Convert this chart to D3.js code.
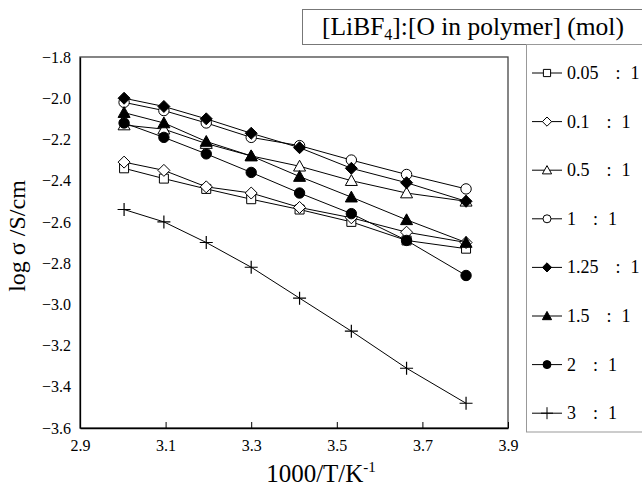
<!DOCTYPE html>
<html>
<head>
<meta charset="utf-8">
<script src="https://cdn.jsdelivr.net/npm/d3@7"></script>
<style>
  body { margin: 0; background: #fff; }
  svg text { font-family: "Liberation Serif", "Times New Roman", serif; fill: #000; }
</style>
</head>
<body>
<div id="chart"></div>
<script>
// 1000/T values (T = 333 ... 263 K)
var invT = [3.003, 3.096, 3.195, 3.300, 3.413, 3.534, 3.663, 3.802];

// legend labels, [LiBF4]:[O] ratio
var ratios = ["0.05", "0.1", "0.5", "1", "1.25", "1.5", "2", "3"];

// log sigma for each ratio
var r005 = [-2.34, -2.39, -2.44, -2.49, -2.54, -2.60, -2.69, -2.73];
var r01  = [-2.31, -2.35, -2.43, -2.46, -2.53, -2.58, -2.65, -2.70];
var r05  = [-2.13, -2.15, -2.22, -2.28, -2.33, -2.40, -2.46, -2.50];
var r1   = [-2.02, -2.06, -2.12, -2.19, -2.23, -2.30, -2.37, -2.44];
var r125 = [-2.00, -2.04, -2.10, -2.17, -2.24, -2.34, -2.41, -2.50];
var r15  = [-2.07, -2.12, -2.21, -2.28, -2.38, -2.48, -2.59, -2.70];
var r2   = [-2.12, -2.19, -2.27, -2.36, -2.46, -2.56, -2.69, -2.86];
var r3   = [-2.54, -2.60, -2.70, -2.82, -2.97, -3.13, -3.31, -3.48];

var allSeries = [r005, r01, r05, r1, r125, r15, r2, r3];
var markerKind = ["square", "diamond", "triangle", "circle", "diamond", "triangle", "circle", "plus"];
var markerFill = ["#fff", "#fff", "#fff", "#fff", "#000", "#000", "#000", "none"];

var xTicks = [2.9, 3.1, 3.3, 3.5, 3.7, 3.9];
var yTicks = [-1.8, -2.0, -2.2, -2.4, -2.6, -2.8, -3.0, -3.2, -3.4, -3.6];

var serif = "'Liberation Serif', 'Times New Roman', serif";
var width = 642, height = 486;
var margin = {top: 57, right: 134, bottom: 58, left: 80};
var innerWidth = width - margin.left - margin.right,
    innerHeight = height - margin.top - margin.bottom;

var svg = d3.select("#chart").append("svg")
    .attr("width", width)
    .attr("height", height);

svg.append("rect").attr("width", width).attr("height", height).attr("fill", "#fff");

var xScale = d3.scaleLinear().domain([2.9, 3.9]).range([0, innerWidth]);
var yScale = d3.scaleLinear().domain([-3.6, -1.8]).range([innerHeight, 0]);

// marker shapes, h = half size
function markerPath(kind, h) {
  if (kind == "square") return "M" + (-h) + "," + (-h) + "H" + h + "V" + h + "H" + (-h) + "Z";
  if (kind == "diamond") return "M0," + (-h) + "L" + h + ",0L0," + h + "L" + (-h) + ",0Z";
  if (kind == "triangle") return "M0," + (-h) + "L" + h + "," + (h * 0.8) + "L" + (-h) + "," + (h * 0.8) + "Z";
  if (kind == "circle") return "M" + h + ",0A" + h + "," + h + " 0 1,1 " + (-h) + ",0A" + h + "," + h + " 0 1,1 " + h + ",0Z";
  return "M" + (-h) + ",0H" + h + "M0," + (-h) + "V" + h; // plus
}
var plotSize = {square: 4.5, diamond: 6, triangle: 6, circle: 5.2, plus: 6.5};
var legSize = {square: 3.6, diamond: 4.6, triangle: 4.6, circle: 4, plus: 6};

var g = svg.append("g")
    .attr("transform", "translate(" + margin.left + "," + margin.top + ")");

// frame (top/right)
g.append("rect")
    .attr("width", innerWidth).attr("height", innerHeight)
    .attr("fill", "none").attr("stroke", "#444").attr("stroke-width", 1.3);

// x axis, ticks point inward
var xAxis = g.append("g")
    .attr("transform", "translate(0," + innerHeight + ")")
    .call(d3.axisBottom(xScale).tickValues(xTicks).tickSizeInner(-6).tickSizeOuter(0)
      .tickPadding(12).tickFormat(d3.format(".1f")));
xAxis.attr("font-family", serif).attr("font-size", 16);
xAxis.selectAll("text").style("font-family", serif).attr("font-size", 16);
xAxis.select(".domain").attr("stroke", "#000").attr("stroke-width", 1.3);

var yAxis = g.append("g")
    .call(d3.axisLeft(yScale).tickValues(yTicks).tickSize(0).tickPadding(9)
      .tickFormat(d3.format(".1f")));
yAxis.attr("font-family", serif).attr("font-size", 16);
yAxis.selectAll("text").style("font-family", serif).attr("font-size", 16);
yAxis.select(".domain").attr("stroke", "#000").attr("stroke-width", 1.3);

var line = d3.line()
    .x(function(d, i) { return xScale(invT[i]); })
    .y(function(d) { return yScale(d); });

allSeries.forEach(function(vals, k) {
  var sg = g.append("g");
  sg.append("path")
      .attr("d", line(vals))
      .attr("fill", "none")
      .attr("stroke", "#000")
      .attr("stroke-width", 1);
  sg.selectAll("path.pt")
      .data(vals)
      .enter().append("path")
      .attr("class", "pt")
      .attr("transform", function(d, i) { return "translate(" + xScale(invT[i]) + "," + yScale(d) + ")"; })
      .attr("d", markerPath(markerKind[k], plotSize[markerKind[k]]))
      .attr("fill", markerFill[k])
      .attr("stroke", "#000")
      .attr("stroke-width", markerKind[k] == "plus" ? 1.2 : 1);
});

// axis titles
svg.append("text")
    .attr("x", 321).attr("y", 482)
    .attr("text-anchor", "middle")
    .attr("font-size", 25)
    .text("1000/T/K")
  .append("tspan")
    .attr("dy", -10).attr("font-size", 15)
    .text("-1");

svg.append("text")
    .attr("transform", "translate(25,236) rotate(-90)")
    .attr("text-anchor", "middle")
    .attr("font-size", 24)
    .text("log σ /S/cm");

// legend title box
svg.append("rect")
    .attr("x", 302.5).attr("y", 9.5).attr("width", 345).attr("height", 35)
    .attr("fill", "#fff").attr("stroke", "#777");
var lt = svg.append("text").attr("x", 322).attr("y", 35).attr("font-size", 25.5);
lt.append("tspan").text("[LiBF");
lt.append("tspan").attr("dy", 5).attr("font-size", 16).text("4");
lt.append("tspan").attr("dy", -5).text("]:[O in polymer] (mol)");

// legend box
svg.append("rect")
    .attr("x", 526.5).attr("y", 44.5).attr("width", 130).attr("height", 387.5)
    .attr("fill", "#fff").attr("stroke", "#999");

var leg = svg.selectAll("g.leg")
    .data(ratios)
    .enter().append("g")
    .attr("class", "leg")
    .attr("transform", function(d, i) { return "translate(532," + (73 + i * 48.6) + ")"; });

leg.append("line")
    .attr("x1", 0).attr("x2", 30)
    .attr("stroke", "#000").attr("stroke-width", 1);
leg.append("path")
    .attr("transform", "translate(15,0)")
    .attr("d", function(d, i) { return markerPath(markerKind[i], legSize[markerKind[i]]); })
    .attr("fill", function(d, i) { return markerFill[i]; })
    .attr("stroke", "#000").attr("stroke-width", 1);
var lx = leg.append("text")
    .attr("x", 35).attr("y", 6)
    .attr("font-size", 18);
lx.append("tspan").text(function(d) { return d; });
lx.append("tspan").attr("dx", 17).text(":");
lx.append("tspan").attr("dx", 10).text("1");
</script>
</body>
</html>
